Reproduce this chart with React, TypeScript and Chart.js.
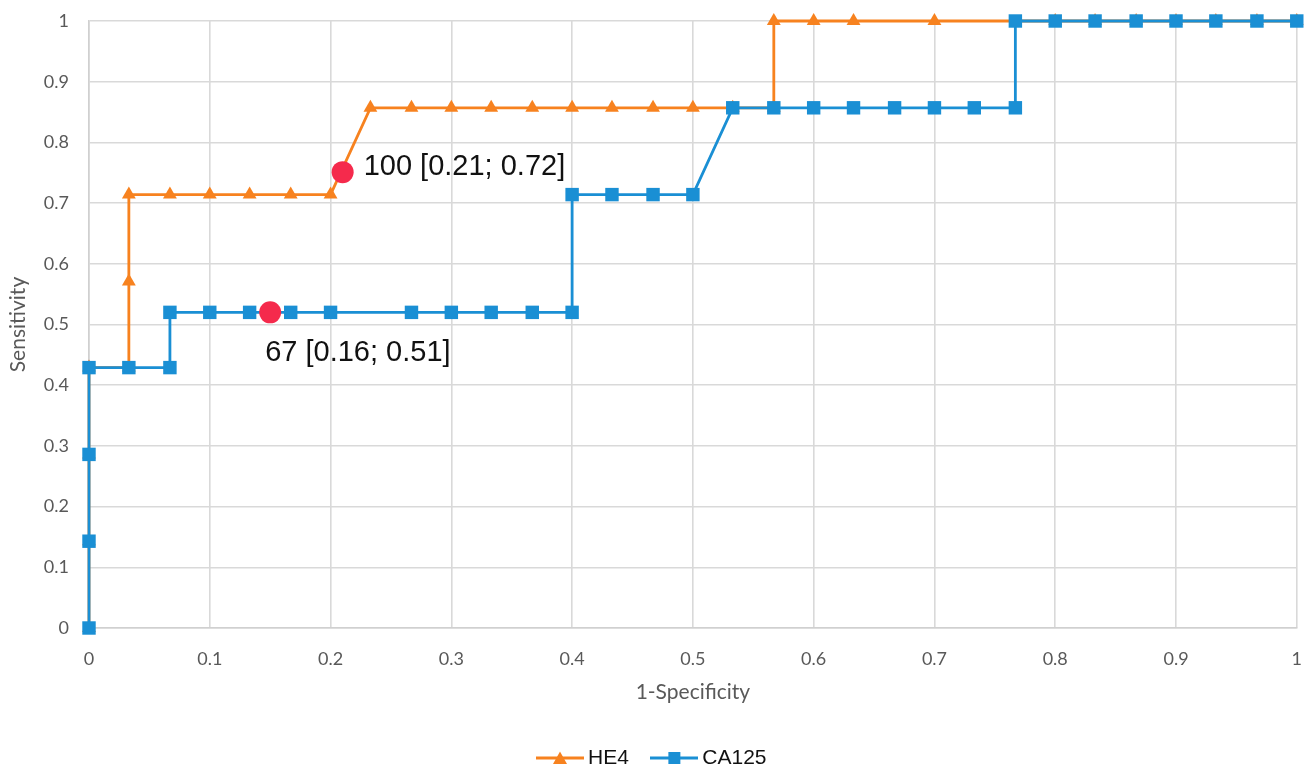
import React, { useEffect, useRef } from "react";
import { Chart, registerables } from "chart.js";

Chart.register(...registerables);

// HE4 ROC curve (1-Specificity, Sensitivity)
const he4X = [0, 0, 0, 0, 0.033, 0.033, 0.033, 0.067, 0.1, 0.133, 0.167, 0.2, 0.233, 0.267, 0.3, 0.333, 0.367, 0.4, 0.433, 0.467, 0.5, 0.533, 0.567, 0.567, 0.6, 0.633, 0.7, 0.767, 0.8, 0.833, 0.867, 0.9, 0.933, 0.967, 1];
const he4Y = [0, 0.143, 0.286, 0.429, 0.429, 0.571, 0.714, 0.714, 0.714, 0.714, 0.714, 0.714, 0.857, 0.857, 0.857, 0.857, 0.857, 0.857, 0.857, 0.857, 0.857, 0.857, 0.857, 1, 1, 1, 1, 1, 1, 1, 1, 1, 1, 1, 1];
const he4Shown = [true, true, true, true, true, true, true, true, true, true, true, true, true, true, true, true, true, true, true, true, true, true, true, true, true, true, true, false, true, true, true, true, true, true, true];

// CA125 ROC curve
const caX = [0, 0, 0, 0, 0.033, 0.067, 0.067, 0.1, 0.133, 0.167, 0.2, 0.267, 0.3, 0.333, 0.367, 0.4, 0.4, 0.433, 0.467, 0.5, 0.533, 0.567, 0.6, 0.633, 0.667, 0.7, 0.733, 0.767, 0.767, 0.8, 0.833, 0.867, 0.9, 0.933, 0.967, 1];
const caY = [0, 0.143, 0.286, 0.429, 0.429, 0.429, 0.52, 0.52, 0.52, 0.52, 0.52, 0.52, 0.52, 0.52, 0.52, 0.52, 0.714, 0.714, 0.714, 0.714, 0.857, 0.857, 0.857, 0.857, 0.857, 0.857, 0.857, 0.857, 1, 1, 1, 1, 1, 1, 1, 1];

// Highlighted cut-off points
const cutX = [0.15, 0.21];
const cutY = [0.52, 0.751];
const cutLabels = ["67 [0.16; 0.51]", "100 [0.21; 0.72]"];

const tickLabels = ["0", "0.1", "0.2", "0.3", "0.4", "0.5", "0.6", "0.7", "0.8", "0.9", "1"];
const seriesNames = ["HE4", "CA125"];

const ORANGE = "#f7821f";
const BLUE = "#1a8fd4";
const RED = "#f52a4c";
const AXIS_FONT = "Lato, 'Open Sans', sans-serif";
const TEXT_FONT = "'Liberation Sans', Arial, sans-serif";

function legendIcon(color: string, style: "triangle" | "rect"): HTMLCanvasElement {
  const c = document.createElement("canvas");
  c.width = 48;
  c.height = 16;
  const ctx = c.getContext("2d")!;
  ctx.strokeStyle = color;
  ctx.lineWidth = 3;
  ctx.beginPath();
  ctx.moveTo(0, 8);
  ctx.lineTo(48, 8);
  ctx.stroke();
  ctx.fillStyle = color;
  ctx.beginPath();
  if (style === "triangle") {
    ctx.moveTo(24, 1.5);
    ctx.lineTo(31, 14);
    ctx.lineTo(17, 14);
    ctx.closePath();
  } else {
    ctx.rect(18, 2, 12, 12);
  }
  ctx.fill();
  return c;
}

const labelOffsetPlugin = {
  id: "cutLabels",
  afterDatasetsDraw(chart: any) {
    const { ctx, scales } = chart;
    const offsets = [
      { dx: -5, dy: 41 },
      { dx: 21, dy: -5 },
    ];
    ctx.save();
    ctx.font = `29px ${TEXT_FONT}`;
    ctx.fillStyle = "#111111";
    ctx.textBaseline = "middle";
    ctx.textAlign = "left";
    cutLabels.forEach((t, i) => {
      const px = scales.x.getPixelForValue(cutX[i]);
      const py = scales.y.getPixelForValue(cutY[i]);
      ctx.fillText(t, px + offsets[i].dx, py + offsets[i].dy);
    });
    ctx.restore();
  },
};

export default function App() {
  const ref = useRef<HTMLCanvasElement | null>(null);

  useEffect(() => {
    document.body.style.margin = "0";
    const canvas = ref.current!;
    const icons = [legendIcon(ORANGE, "triangle"), legendIcon(BLUE, "rect")];
    const chart = new Chart(canvas, {
      type: "line",
      data: {
        datasets: [
          {
            label: seriesNames[0],
            data: he4X.map((x, i) => ({ x, y: he4Y[i] })),
            borderColor: ORANGE,
            backgroundColor: ORANGE,
            borderWidth: 2.8,
            pointStyle: "triangle",
            pointRadius: he4Shown.map((s) => (s ? 8 : 0)),
            pointBorderWidth: 0,
            tension: 0,
            clip: false,
            order: 3,
          } as any,
          {
            label: seriesNames[1],
            data: caX.map((x, i) => ({ x, y: caY[i] })),
            borderColor: BLUE,
            backgroundColor: BLUE,
            borderWidth: 2.8,
            pointStyle: "rect",
            pointRadius: 9.5,
            pointBorderWidth: 0,
            tension: 0,
            clip: false,
            order: 2,
          } as any,
          {
            label: "cut",
            type: "scatter",
            data: cutX.map((x, i) => ({ x, y: cutY[i] })),
            borderColor: RED,
            backgroundColor: RED,
            pointStyle: "circle",
            pointRadius: 11,
            pointBorderWidth: 0,
            showLine: false,
            clip: false,
            order: 1,
          } as any,
        ],
      },
      options: {
        responsive: false,
        devicePixelRatio: 1,
        animation: false,
        layout: { padding: { top: 21, right: 6, left: 0, bottom: -5.5 } },
        scales: {
          x: {
            type: "linear",
            min: 0,
            max: 1,
            ticks: {
              stepSize: 0.1,
              padding: 13,
              color: "#595959",
              font: { family: AXIS_FONT, size: 18 },
              callback: (_v: any, i: number) => tickLabels[i],
              maxRotation: 0,
            },
            grid: { color: "#d9d9d9", lineWidth: 1.6, drawTicks: true, tickLength: 7, tickColor: "rgba(0,0,0,0)" },
            border: { color: "#d0d0d0", width: 1.6 },
            title: {
              display: true,
              text: "1-Specificity",
              color: "#595959",
              font: { family: AXIS_FONT, size: 21 },
              padding: { top: 0, bottom: 15 },
            },
            afterFit: (s: any) => {
              s.height = 91.5;
            },
          },
          y: {
            type: "linear",
            min: 0,
            max: 1,
            ticks: {
              stepSize: 0.1,
              padding: 6,
              color: "#595959",
              font: { family: AXIS_FONT, size: 18 },
              callback: (_v: any, i: number) => tickLabels[i],
            },
            grid: { color: "#d9d9d9", lineWidth: 1.6, drawTicks: true, tickLength: 14, tickColor: "rgba(0,0,0,0)" },
            border: { color: "#d0d0d0", width: 1.6 },
            title: {
              display: true,
              text: "Sensitivity",
              color: "#595959",
              font: { family: AXIS_FONT, size: 21 },
              padding: { top: 6, bottom: 0 },
            },
            afterFit: (s: any) => {
              s.width = 89;
            },
          },
        },
        plugins: {
          tooltip: { enabled: false },
          legend: {
            position: "bottom",
            labels: {
              usePointStyle: true,
              pointStyleWidth: 35,
              padding: 28,
              color: "#111111",
              font: { family: TEXT_FONT, size: 21 },
              generateLabels: () =>
                seriesNames.map((n, i) => ({
                  text: n,
                  pointStyle: icons[i] as any,
                  fillStyle: "transparent",
                  strokeStyle: "transparent",
                  lineWidth: 0,
                  hidden: false,
                  datasetIndex: i,
                  fontColor: "#111111",
                })),
            },
          },
        },
      },
      plugins: [labelOffsetPlugin],
    });
    return () => chart.destroy();
  }, []);

  return (
    <div style={{ width: 1315, height: 773 }}>
      <canvas ref={ref} width={1315} height={773} style={{ display: "block" }} />
    </div>
  );
}
